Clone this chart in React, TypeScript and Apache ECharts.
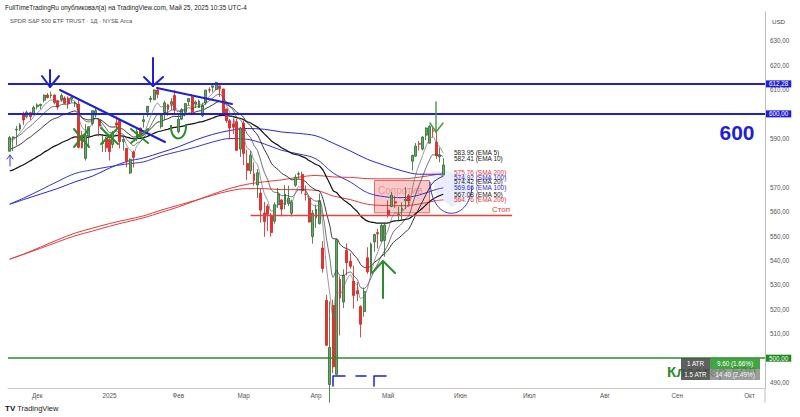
import React, { useEffect, useRef } from "react";
import * as echarts from "echarts";

// ---------- DATA ----------
const startDate = "2024-11-19";
const categoryCount = 220;
const holidays = [
  "2024-11-28", "2024-12-25", "2025-01-01", "2025-01-09", "2025-01-20",
  "2025-02-17", "2025-04-18", "2025-05-26", "2025-06-19", "2025-07-04", "2025-09-01",
];
const monthNames = ["Янв", "Фев", "Мар", "Апр", "Май", "Июн", "Июл", "Авг", "Сен", "Окт", "Ноя", "Дек"];

// [open, close, low, high]
const candles = [
  [584.7, 590.3, 584.6, 591.0], [590.4, 590.5, 584.7, 590.8], [593.4, 593.7, 587.1, 595.1], [593.7, 595.5, 593.0, 596.2],
  [599.5, 597.5, 595.5, 600.9], [598.8, 600.7, 598.2, 601.3], [600.5, 598.8, 597.4, 600.9], [599.7, 602.6, 599.4, 603.4],
  [602.9, 603.6, 601.9, 604.3], [603.4, 603.9, 602.0, 604.2], [605.6, 607.7, 604.7, 607.9], [607.7, 606.7, 606.3, 608.5],
  [607.4, 607.8, 606.4, 609.1], [607.7, 604.7, 603.9, 607.9], [605.4, 602.8, 601.7, 605.8], [605.8, 607.5, 605.0, 608.4],
  [606.5, 604.3, 604.1, 607.2], [606.4, 604.2, 602.1, 607.2], [606.0, 606.8, 604.7, 607.8], [604.2, 604.3, 602.8, 605.2],
  [604.0, 586.3, 585.9, 606.4], [591.4, 586.1, 585.9, 593.0], [581.8, 591.2, 580.9, 595.8], [590.9, 594.7, 586.1, 595.0],
  [596.1, 601.3, 595.2, 601.3], [599.5, 601.3, 598.6, 602.5], [597.5, 595.0, 590.8, 597.8], [587.9, 588.2, 584.4, 591.7],
  [589.9, 586.1, 584.4, 590.6],
  [589.4, 584.6, 580.9, 591.1], [587.5, 592.0, 586.0, 593.0], [596.3, 595.4, 593.6, 599.0], [597.4, 588.6, 585.8, 597.8],
  [588.7, 589.5, 585.0, 590.6], [585.9, 580.5, 578.1, 585.9], [575.8, 581.4, 575.4, 581.8], [584.4, 582.2, 578.0, 585.0],
  [590.3, 592.8, 588.9, 593.9], [594.2, 591.6, 590.9, 594.4], [596.9, 597.6, 594.4, 599.4], [600.7, 603.1, 598.7, 603.1],
  [605.9, 606.4, 604.6, 607.4], [605.8, 609.8, 605.6, 610.0], [609.8, 608.0, 606.4, 611.0], [594.8, 599.4, 594.0, 599.7],
  [600.6, 604.5, 597.3, 605.4], [603.7, 601.8, 599.2, 604.1], [603.9, 605.0, 601.6, 606.4], [607.5, 601.8, 600.3, 609.9],
  [592.7, 597.8, 592.0, 600.3], [597.8, 601.8, 597.6, 602.3], [600.6, 604.2, 599.0, 604.4], [605.0, 606.3, 603.3, 606.5],
  [606.9, 600.8, 599.8, 608.1], [604.0, 604.9, 602.4, 605.5], [602.6, 605.3, 602.4, 605.9], [599.2, 603.4, 598.7, 604.6],
  [604.5, 609.7, 603.7, 609.9], [609.9, 609.7, 608.6, 610.9], [610.9, 611.5, 608.9, 611.5], [610.0, 612.9, 609.6, 613.2],
  [611.5, 610.4, 606.9, 611.5], [610.2, 599.9, 599.5, 610.3], [602.0, 597.2, 596.3, 602.1], [597.2, 594.2, 589.6, 597.9],
  [595.9, 594.5, 591.7, 598.0], [596.8, 585.1, 584.7, 598.0], [585.6, 594.2, 582.4, 594.7],
  [596.2, 583.8, 579.0, 597.3], [579.7, 576.9, 573.0, 585.4], [576.7, 583.1, 575.3, 584.9], [575.5, 572.7, 570.6, 580.2],
  [570.9, 575.9, 565.6, 577.4], [567.6, 560.6, 555.5, 569.4], [559.4, 555.9, 549.7, 564.0], [562.2, 558.9, 552.0, 563.1],
  [558.5, 551.4, 549.7, 559.5], [556.1, 562.8, 555.0, 563.8], [562.8, 567.2, 561.5, 569.7], [564.8, 561.0, 558.1, 565.0],
  [562.8, 567.1, 561.0, 570.9], [563.3, 565.5, 562.3, 570.6], [559.3, 564.0, 558.0, 564.9], [570.8, 574.1, 570.1, 575.2],
  [575.3, 575.5, 573.5, 576.4], [575.2, 568.6, 567.2, 576.3], [567.2, 567.1, 564.5, 570.7], [565.5, 555.7, 555.6, 566.3],
  [549.8, 559.4, 546.9, 560.7],
  [557.5, 561.0, 553.3, 562.9], [555.1, 564.5, 554.7, 567.4], [545.1, 536.7, 535.0, 547.9], [523.7, 505.3, 505.0, 525.9],
  [489.2, 504.4, 481.8, 523.2], [521.6, 496.5, 493.9, 524.0], [493.4, 548.6, 493.0, 548.6], [532.2, 524.6, 509.3, 533.5],
  [523.0, 533.9, 520.5, 536.4], [544.1, 539.1, 533.9, 547.0], [539.7, 537.6, 536.7, 543.0], [531.6, 525.7, 520.3, 537.9],
  [527.6, 526.4, 523.4, 531.2], [521.2, 513.9, 508.5, 521.6], [519.1, 527.3, 517.0, 528.8], [541.1, 535.4, 534.5, 545.4],
  [535.4, 546.7, 533.8, 547.4], [547.6, 550.6, 543.6, 551.0], [551.4, 550.9, 544.9, 553.0], [547.9, 554.3, 547.8, 555.4],
  [548.2, 554.5, 541.5, 555.5],
  [560.6, 558.5, 557.5, 564.6], [562.1, 566.8, 561.8, 568.0], [564.0, 563.5, 561.5, 566.5], [558.5, 558.8, 556.0, 562.0],
  [560.6, 561.2, 556.6, 563.8], [564.4, 565.1, 561.0, 570.0], [566.5, 564.3, 562.0, 567.2], [580.6, 583.0, 576.8, 583.3],
  [582.7, 586.8, 582.4, 588.1], [587.8, 587.6, 585.0, 588.9], [585.6, 590.5, 585.0, 590.9], [591.3, 594.2, 589.3, 594.5],
  [588.0, 594.9, 588.0, 595.5], [593.1, 592.9, 590.4, 594.4], [588.4, 582.9, 581.6, 592.6], [582.4, 583.1, 580.2, 586.2],
  [575.0, 579.1, 575.0, 581.8],
];

const ema5 = [
  588.5, 589.2, 590.7, 592.3, 594.0, 596.2, 597.1, 598.9, 600.5, 601.6,
  603.6, 604.7, 605.7, 605.4, 604.5, 605.5, 605.1, 604.8, 605.5, 605.1,
  598.8, 594.6, 593.4, 593.9, 596.3, 598.0, 597.0, 594.1, 591.4, 589.1,
  590.1, 591.9, 590.8, 590.3, 587.1, 585.2, 584.2, 587.0, 588.6, 591.6,
  595.4, 599.1, 602.6, 604.4, 602.8, 603.3, 602.8, 603.6, 603.0, 601.3,
  601.4, 602.4, 603.7, 602.7, 603.4, 604.1, 603.8, 605.8, 607.1, 608.5,
  610.0, 610.1, 606.7, 603.6, 600.4, 598.5, 594.0, 594.1, 590.6, 586.1,
  585.1, 580.9, 579.3, 573.0, 567.3, 564.5, 560.2, 561.0, 563.1, 562.4,
  564.0, 564.5, 564.3, 567.6, 570.2, 569.7, 568.8, 564.4, 562.8, 562.2,
  563.0, 554.2, 537.9, 526.7, 516.7, 527.3, 526.4, 528.9, 532.3, 534.1,
  531.3, 529.7, 524.4, 525.4, 528.7, 534.7, 540.0, 543.6, 547.2, 549.6,
  552.6, 557.3, 559.4, 559.2, 559.9, 561.6, 562.5, 569.3, 575.2, 579.3,
  583.0, 586.8, 589.5, 590.6, 588.0, 586.4, 583.9,
];
const ema10 = [
  589.6, 589.8, 590.5, 591.4, 592.5, 594.0, 594.9, 596.3, 597.6, 598.8,
  600.4, 601.5, 602.7, 603.0, 603.0, 603.8, 603.9, 604.0, 604.5, 604.5,
  601.2, 598.4, 597.1, 596.7, 597.5, 598.2, 597.6, 595.9, 594.1, 592.4,
  592.3, 592.9, 592.1, 591.6, 589.6, 588.1, 587.0, 588.1, 588.7, 590.3,
  592.7, 595.2, 597.8, 599.7, 599.6, 600.5, 600.7, 601.5, 601.6, 600.9,
  601.1, 601.6, 602.5, 602.2, 602.7, 603.1, 603.2, 604.4, 605.3, 606.5,
  607.6, 608.1, 606.6, 604.9, 603.0, 601.4, 598.5, 597.7, 595.2, 591.8,
  590.3, 587.1, 585.0, 580.6, 576.1, 573.0, 569.0, 567.9, 567.8, 566.5,
  566.6, 566.4, 566.0, 567.5, 568.9, 568.9, 568.6, 566.2, 565.0, 564.3,
  564.3, 559.3, 549.4, 541.2, 533.1, 535.9, 533.9, 533.9, 534.8, 535.3,
  533.6, 532.3, 528.9, 528.6, 529.9, 532.9, 536.1, 538.8, 541.7, 544.0,
  546.6, 550.3, 552.7, 553.8, 555.2, 557.0, 558.3, 562.8, 567.2, 570.9,
  574.4, 578.0, 581.1, 583.3, 583.2, 583.2, 582.4,
];
const ema20 = [
  585.5, 586.0, 586.7, 587.5, 588.5, 589.7, 590.5, 591.7, 592.8, 593.9,
  595.2, 596.3, 597.4, 598.1, 598.5, 599.4, 599.8, 600.3, 600.9, 601.2,
  599.8, 598.5, 597.8, 597.5, 597.9, 598.2, 597.9, 597.0, 595.9, 594.8,
  594.6, 594.7, 594.1, 593.7, 592.4, 591.4, 590.5, 590.7, 590.8, 591.5,
  592.6, 593.9, 595.4, 596.6, 596.9, 597.6, 598.0, 598.7, 599.0, 598.9,
  599.2, 599.6, 600.3, 600.3, 600.8, 601.2, 601.4, 602.2, 602.9, 603.7,
  604.6, 605.1, 604.6, 603.9, 603.0, 602.2, 600.6, 600.0, 598.5, 596.4,
  595.1, 593.0, 591.4, 588.5, 585.4, 582.9, 579.9, 578.3, 577.2, 575.7,
  574.9, 574.0, 573.0, 573.1, 573.3, 572.9, 572.3, 570.7, 569.7, 568.8,
  568.4, 565.4, 559.7, 554.4, 548.9, 548.9, 546.6, 545.4, 544.8, 544.1,
  542.3, 540.8, 538.3, 537.2, 537.0, 537.9, 539.2, 540.3, 541.6, 542.8,
  544.3, 546.5, 548.1, 549.1, 550.3, 551.7, 552.9, 555.7, 558.7, 561.5,
  564.2, 567.1, 569.7, 571.9, 573.0, 573.9, 574.4,
];
const ema50 = [
  576.6, 577.1, 577.8, 578.5, 579.2, 580.0, 580.8, 581.6, 582.5, 583.3,
  584.3, 585.1, 586.0, 586.8, 587.4, 588.2, 588.8, 589.4, 590.1, 590.6,
  590.5, 590.3, 590.3, 590.5, 590.9, 591.3, 591.5, 591.3, 591.1, 590.9,
  590.9, 591.1, 591.0, 590.9, 590.5, 590.1, 589.8, 589.9, 590.0, 590.3,
  590.8, 591.4, 592.1, 592.7, 593.0, 593.4, 593.7, 594.2, 594.5, 594.6,
  594.9, 595.2, 595.7, 595.9, 596.2, 596.6, 596.8, 597.3, 597.8, 598.3,
  598.9, 599.3, 599.4, 599.3, 599.1, 598.9, 598.4, 598.2, 597.6, 596.8,
  596.3, 595.4, 594.6, 593.3, 591.8, 590.5, 589.0, 588.0, 587.2, 586.1,
  585.4, 584.6, 583.8, 583.4, 583.1, 582.5, 581.9, 580.9, 580.1, 579.3,
  578.7, 577.1, 574.3, 571.5, 568.6, 567.8, 566.1, 564.8, 563.8, 562.8,
  561.3, 560.0, 558.2, 557.0, 556.1, 555.7, 555.5, 555.3, 555.3, 555.3,
  555.4, 555.9, 556.2, 556.3, 556.5, 556.8, 557.1, 558.1, 559.2, 560.3,
  561.5, 562.8, 564.1, 565.2, 565.9, 566.6, 567.1,
];

// long averages, read at sampled bars
const maSampleIdx = [0, 4, 9, 14, 19, 24, 29, 34, 39, 44, 49, 54, 59, 64, 69, 74, 79, 84, 89, 94, 99, 104, 109, 114, 119, 124, 126];
const sma100 = [563.0, 564.9, 567.2, 569.5, 572.2, 574.5, 577.8, 580.5, 582.0, 584.2, 586.5, 589.3, 591.6, 593.2, 594.0, 593.7, 592.6, 592.0, 591.0, 588.0, 584.8, 581.4, 578.9, 576.7, 575.3, 575.3, 574.9];
const ema100 = [563.1, 565.5, 568.9, 572.4, 575.6, 577.1, 578.4, 579.5, 580.4, 582.8, 584.6, 586.4, 588.5, 589.9, 589.6, 587.7, 585.1, 583.6, 581.6, 575.8, 572.1, 567.7, 566.1, 565.7, 566.8, 569.1, 569.7];
const sma200 = [540.6, 542.5, 545.0, 547.6, 550.1, 552.0, 554.0, 555.8, 557.5, 559.7, 561.9, 564.5, 567.1, 569.5, 571.2, 572.2, 573.0, 574.1, 574.8, 574.2, 574.0, 573.5, 573.4, 573.4, 574.1, 575.2, 575.8];
const ema200 = [540.5, 542.6, 545.5, 548.5, 551.2, 553.2, 555.1, 556.7, 558.3, 560.6, 562.6, 564.6, 566.7, 568.5, 569.4, 569.4, 569.0, 569.0, 568.7, 566.4, 564.9, 563.0, 562.5, 562.4, 563.1, 564.5, 564.8];

// price-scale labels (those hidden under price tags in the reference are left out)
const yTicks = [490, 510, 520, 530, 540, 550, 560, 570, 590, 610, 620, 630];
const levels = [612.28, 600, 500];
const lastPrice = 579.11;
const stopLevel = 558.6;
const stopRange = [70, 146];
const zoneRange = [106, 122];
const zonePrices = [572.7, 559.5];

const maLegend = [
  ["583.95", "EMA 5"], ["582.41", "EMA 10"], ["575.76", "SMA 200"], ["574.92", "SMA 100"],
  ["574.42", "EMA 20"], ["569.66", "EMA 100"], ["567.08", "EMA 50"], ["564.76", "EMA 200"],
];
const atrRows = [["1 ATR", "9.60 (1.66%)"], ["1.5 ATR", "14.40 (2.49%)"]];

// ---------- helpers ----------
function buildCategories(): string[] {
  const out: string[] = [];
  let t = Date.parse(startDate + "T00:00:00Z");
  while (out.length < categoryCount) {
    const d = new Date(t);
    const wd = d.getUTCDay();
    const iso = d.toISOString().slice(0, 10);
    if (wd !== 0 && wd !== 6 && holidays.indexOf(iso) < 0) out.push(iso);
    t += 86400000;
  }
  return out;
}
const fmt = (v: number) => v.toFixed(2).replace(".", ",");

const FONT = "'Liberation Sans', Arial, sans-serif";
const BLUE = "#1f1fd8";
const GREEN = "#2c8c2c";
const RED = "#e53935";
const DARK = "#222";

export default function App() {
  const ref = useRef<HTMLDivElement>(null);
  useEffect(() => {
    if (!ref.current) return;
    const chart = echarts.init(ref.current, null, { renderer: "svg" });
    const cats = buildCategories();
    const monthStart: boolean[] = cats.map((c, i) => i > 0 && c.slice(0, 7) !== cats[i - 1].slice(0, 7));
    const monthLabel = (c: string) => {
      const m = parseInt(c.slice(5, 7), 10) - 1;
      return m === 0 ? c.slice(0, 4) : monthNames[m];
    };
    const sampled = (arr: number[]) => maSampleIdx.map((i, k) => [i, arr[k]]);
    const lineSeries = (data: any, color: string, width: number, z = 3) => ({
      type: "line", data, symbol: "none", smooth: 0.35, z,
      lineStyle: { color, width }, silent: true, animation: false,
    });

    const tag = (v: number, bg: string, fg: string) => ({
      show: true, position: "end", distance: 1, formatter: fmt(v),
      backgroundColor: bg, color: fg, fontSize: 6.3, fontFamily: FONT, padding: [1, 3, 0, 3],
    });

    const legendY = [152.7, 158.3, 172.3, 177.0, 181.7, 187.3, 194.3, 199.3];
    const legendColor = (name: string) => (name.indexOf("200") >= 0 ? RED : name.indexOf("100") >= 0 ? "#2a2ae0" : DARK);

    const txt = (text: string, x: number, y: number, extra: any = {}) => ({
      type: "text", x, y, z: 100, silent: true,
      style: { text, fill: extra.fill || DARK, fontSize: extra.fontSize || 6.3, fontFamily: FONT, fontWeight: extra.fontWeight || "normal", textAlign: extra.align || "left", textVerticalAlign: "middle", opacity: extra.opacity == null ? 1 : extra.opacity },
    });
    const ln = (x1: number, y1: number, x2: number, y2: number, stroke: string, w: number) => ({
      type: "line", z: 100, silent: true, shape: { x1, y1, x2, y2 }, style: { stroke, lineWidth: w, lineCap: "round" },
    });
    const pl = (points: number[][], stroke: string, w: number) => ({
      type: "polyline", z: 100, silent: true, shape: { points }, style: { stroke, lineWidth: w, fill: null, lineJoin: "round", lineCap: "round" },
    });

    const graphics: any[] = [
      txt("FullTimeTradingRu опубликовал(а) на TradingView.com, Май 25, 2025 10:35 UTC-4", 5, 7, { fontSize: 6.4, fill: "#222" }),
      txt("SPDR S&P 500 ETF TRUST · 1Д · NYSE Arca", 10, 21, { fontSize: 5.9, fill: "#555" }),
      txt("USD", 772, 21, { fontSize: 6.2, fill: "#444" }),
      txt("600", 737, 132, { fontSize: 21, fontWeight: "bold", fill: BLUE, align: "center" }),
      txt("Стоп", 492, 209.5, { fontSize: 8, fill: RED }),
      { type: "text", x: 378, y: 190.5, z: 1, silent: true, style: { text: "Сопротив", fill: "rgba(215,80,80,0.55)", fontSize: 10, fontFamily: FONT, textVerticalAlign: "middle" } },
      // shaded fan near last bars
      { type: "polygon", z: 1, silent: true, shape: { points: [[431, 171], [447, 171], [470, 178], [470, 195], [452, 207], [436, 195]] }, style: { fill: "rgba(150,165,255,0.2)" } },
      { type: "bezierCurve", z: 100, silent: true, shape: { x1: 430, y1: 182, cpx1: 432, cpy1: 224, cpx2: 470, cpy2: 222, x2: 472, y2: 186 }, style: { stroke: "#3434e0", lineWidth: 1, fill: null } },
      // drawn blue trend lines and arrows
      ln(60, 90, 165, 142, BLUE, 2),
      ln(157, 88, 232, 104, BLUE, 2),
      ln(50, 70, 50, 87, BLUE, 2), pl([[42, 76], [50, 87], [59, 76]], BLUE, 2),
      ln(153, 58, 153, 86, BLUE, 2), pl([[144, 77], [153, 86], [163, 77]], BLUE, 2),
      ln(10, 166, 10, 155, "#3a3ae0", 1), pl([[7, 159], [10, 155], [13, 159]], "#3a3ae0", 1),
      // green marks
      ln(74, 129, 89, 147, GREEN, 2), ln(74, 147, 89, 129, GREEN, 2),
      ln(101, 128, 118, 144, GREEN, 2), ln(101, 144, 118, 128, GREEN, 2),
      ln(131, 129, 148, 143, GREEN, 2), ln(131, 143, 148, 129, GREEN, 2),
      { type: "bezierCurve", z: 100, silent: true, shape: { x1: 171, y1: 125, cpx1: 170, cpy1: 143, cpx2: 187, cpy2: 143, x2: 186, y2: 124 }, style: { stroke: GREEN, lineWidth: 2, fill: null } },
      ln(383, 298, 383, 262, GREEN, 2), pl([[372, 273], [383, 261], [395, 273]], GREEN, 2),
      ln(436, 102, 436, 132, "#3f9a3f", 1.4), pl([[430, 123], [436, 132], [443, 123]], "#3f9a3f", 1.4),
      // blue dashes at the bottom
      pl([[333, 386], [333, 376], [345, 376]], BLUE, 1.5),
      ln(356, 376, 366, 376, BLUE, 1.5),
      pl([[374, 386], [374, 376], [386, 376]], BLUE, 1.5),
      // bottom green text and ATR box
      txt("Кластер 500", 667, 371, { fontSize: 15, fontWeight: "bold", fill: GREEN }),
      { type: "rect", z: 101, silent: true, shape: { x: 681, y: 358, width: 29, height: 11 }, style: { fill: "#4a4a4a", opacity: 0.88 } },
      { type: "rect", z: 101, silent: true, shape: { x: 710, y: 358, width: 50, height: 11 }, style: { fill: "#2e9b2e", opacity: 0.9 } },
      { type: "rect", z: 101, silent: true, shape: { x: 681, y: 369, width: 29, height: 11 }, style: { fill: "#4a4a4a", opacity: 0.88 } },
      { type: "rect", z: 101, silent: true, shape: { x: 710, y: 369, width: 50, height: 11 }, style: { fill: "#8c8c8c", opacity: 0.85 } },
      // logo
      { type: "text", x: 5, y: 408, z: 100, silent: true, style: { text: "{b|TV} TradingView", fill: "#222", fontSize: 7.5, fontFamily: FONT, textVerticalAlign: "middle", rich: { b: { fontWeight: "bold", fontSize: 8, fill: "#111", fontFamily: FONT } } } },
      // axis extensions
      ln(765, 388, 765, 402, "#bdbdbd", 1),
    ];
    atrRows.forEach((r, k) => {
      const y = 363.5 + k * 11;
      graphics.push({ ...txt(r[0], 695.5, y, { fill: "#fff", align: "center", fontSize: 6.3 }), z: 102 });
      graphics.push({ ...txt(r[1], 735, y, { fill: "#fff", align: "center", fontSize: 6.3 }), z: 102 });
    });
    maLegend.forEach((m, k) => {
      graphics.push(txt(`${m[0]} (${m[1]})`, 454, legendY[k], { fontSize: 6.5, fill: legendColor(m[1]) }));
    });

    const option: any = {
      animation: false,
      backgroundColor: "#ffffff",
      grid: { left: 8, right: 35, top: 12, bottom: 29 },
      xAxis: {
        type: "category", data: cats, boundaryGap: true,
        axisLine: { show: true, lineStyle: { color: "#c8c8c8" } },
        axisTick: { show: false },
        splitLine: { show: false },
        axisLabel: {
          interval: (i: number) => monthStart[i],
          formatter: (v: string) => monthLabel(v),
          color: "#555", fontSize: 6.3, fontFamily: FONT, margin: 4,
        },
      },
      yAxis: {
        type: "value", position: "right", min: 487.8, max: 641.7,
        splitLine: { show: false },
        axisLine: { show: true, lineStyle: { color: "#bdbdbd" } },
        axisTick: { show: false },
        axisLabel: { customValues: yTicks, formatter: (v: number) => fmt(v), color: "#555", fontSize: 6.3, fontFamily: FONT, margin: 5 },
      },
      series: [
        lineSeries(sampled(sma200), "#e83a3a", 1),
        lineSeries(sampled(ema200), "#e23b3b", 1),
        lineSeries(sampled(sma100), "#2626e2", 1),
        lineSeries(sampled(ema100), "#3535d0", 1),
        lineSeries(ema50, "#111111", 1.2),
        lineSeries(ema20, "#222222", 0.9),
        {
          type: "candlestick", data: candles, barWidth: 2.4, clip: true, z: 4,
          itemStyle: { color: "#6aa66a", color0: "#f22b2b", borderColor: "#2b6b2b", borderColor0: "#d21f1f", borderWidth: 0.8 },
          markArea: {
            silent: true,
            itemStyle: { color: "rgba(242,128,128,0.42)", borderColor: "#e06a6a", borderWidth: 1 },
            data: [[{ xAxis: cats[zoneRange[0]], yAxis: zonePrices[0] }, { xAxis: cats[zoneRange[1]], yAxis: zonePrices[1] }]],
          },
          markLine: {
            silent: true, symbol: ["none", "none"], animation: false,
            data: [
              { yAxis: levels[0], lineStyle: { color: BLUE, width: 2, type: "solid" }, label: tag(levels[0], BLUE, "#fff") },
              { yAxis: levels[1], lineStyle: { color: BLUE, width: 2, type: "solid" }, label: tag(levels[1], BLUE, "#fff") },
              { yAxis: levels[2], lineStyle: { color: GREEN, width: 1.6, type: "solid" }, label: tag(levels[2], "#1f8a1f", "#fff") },
              { yAxis: lastPrice, lineStyle: { opacity: 0, width: 0 }, label: tag(lastPrice, "#9e9e9e", "#222") },
              [
                { coord: [cats[stopRange[0]], stopLevel], lineStyle: { color: "#e8423f", width: 1.3, type: "solid" }, label: { show: false } },
                { coord: [cats[stopRange[1]], stopLevel] },
              ],
            ],
          },
        },
        lineSeries(ema10, "#3a3a3a", 0.7, 5),
        lineSeries(ema5, "#6e6e6e", 0.7, 5),
      ],
      graphic: graphics,
    };
    chart.setOption(option);
    return () => chart.dispose();
  }, []);
  return <div ref={ref} style={{ position: "fixed", left: 0, top: 0, width: 800, height: 417, background: "#fff" }} />;
}
